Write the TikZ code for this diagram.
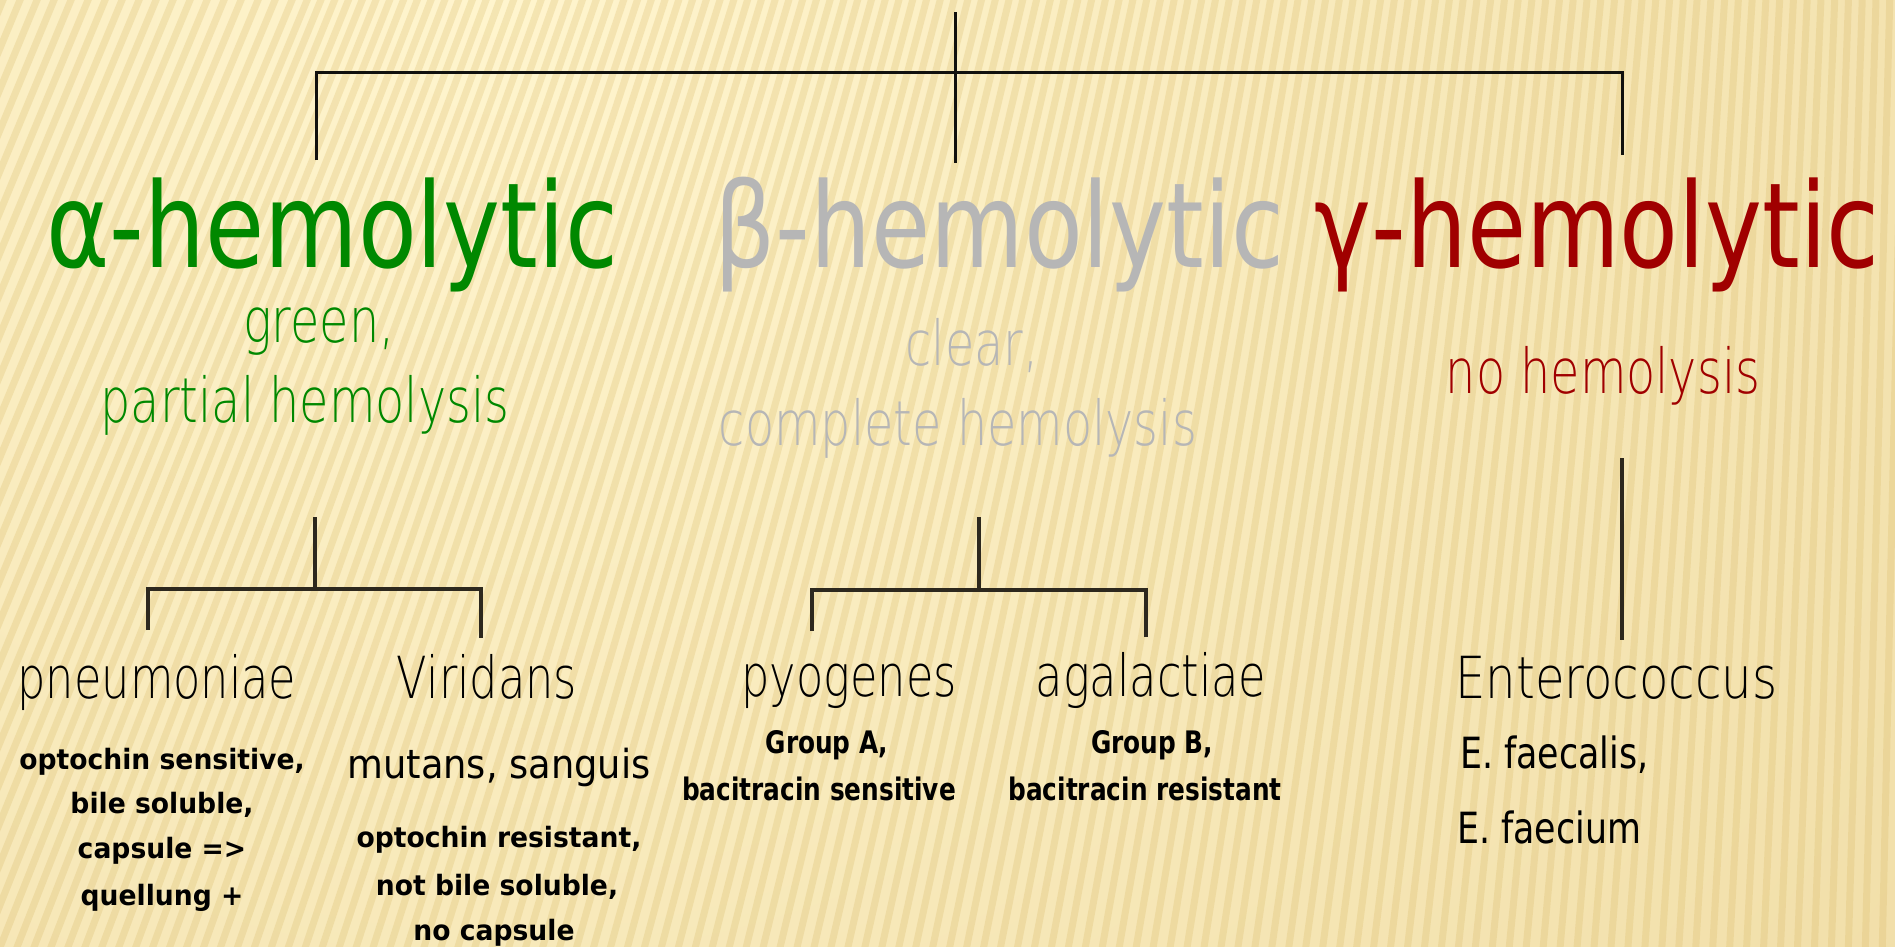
\documentclass[tikz,border=0pt]{standalone}
\usepackage{fontspec}
\newfontfamily\ttlfont[FakeStretch=0.815]{DejaVu Sans}
\newfontfamily\thinfont[FakeStretch=0.77]{DejaVu Sans ExtraLight}
\newfontfamily\thinwfont[FakeStretch=0.83]{DejaVu Sans ExtraLight}
\newfontfamily\medAfont[FakeStretch=0.92]{DejaVu Sans}
\newfontfamily\medBfont[FakeStretch=0.81]{DejaVu Sans}
\newfontfamily\notefont[FakeStretch=0.95]{DejaVu Sans}
\newfontfamily\grpfont[FakeStretch=0.8]{DejaVu Sans}
\definecolor{agreen}{RGB}{0,136,0}
\definecolor{bgray}{RGB}{182,182,182}
\definecolor{gred}{RGB}{160,0,0}
\definecolor{bgA}{RGB}{255,245,206}
\definecolor{bgB}{RGB}{226,198,128}
\definecolor{stripec}{RGB}{216,184,100}
\definecolor{linec}{RGB}{17,17,14}
\definecolor{linec2}{RGB}{45,40,30}
\begin{document}
\begin{tikzpicture}[x=1pt,y=-1pt,
  conn/.style={draw=linec,line width=3pt},
  conn2/.style={draw=linec2,line width=3.6pt},
  stripe/.style={draw=stripec,line width=7pt,opacity=0.26},
  ttl/.style={anchor=base,inner sep=0pt,font=\ttlfont\fontsize{118}{120}\selectfont},
  sub/.style={anchor=base,inner sep=0pt,font=\thinfont\fontsize{62}{64}\selectfont},
  spec/.style={anchor=base,inner sep=0pt,font=\thinfont\fontsize{58}{60}\selectfont},
  specw/.style={anchor=base west,inner sep=0pt,font=\thinwfont\fontsize{58}{60}\selectfont},
  note/.style={anchor=base,inner sep=0pt,font=\notefont\bfseries\fontsize{28}{30}\selectfont},
  grp/.style={anchor=base,inner sep=0pt,font=\grpfont\bfseries\fontsize{31}{33}\selectfont},
  medA/.style={anchor=base,inner sep=0pt,font=\medAfont\fontsize{40}{42}\selectfont},
  medB/.style={anchor=base west,inner sep=0pt,font=\medBfont\fontsize{43}{45}\selectfont}
]
\useasboundingbox (0,0) rectangle (1895,946);
% background
\begin{scope}
\clip (0,0) rectangle (1895,946);
\shade[inner color=bgA,outer color=bgB] (500,0) circle (3600);
\foreach \xb in {-600,-583,...,2000}{
  \pgfmathsetmacro\s{0.42-0.40*min(1,max(0,(\xb+100)/1995))}
  \draw[stripe] (\xb,960) -- ({\xb+\s*960},-10);
}
\end{scope}

% titles
\node[ttl,text=agreen] (alpha) at (332,267) {α-hemolytic};
\node[ttl,text=bgray] (beta) at (999,267) {β-hemolytic};
\node[ttl,text=gred] (gamma) at (1597,267) {γ-hemolytic};

% subtitles
\node[sub,text=agreen] (a1) at (319,342) {green,};
\node[sub,text=agreen] (a2) at (305,422) {partial hemolysis};
\node[sub,text=bgray] (b1) at (972,365) {clear,};
\node[sub,text=bgray] (b2) at (958,445) {complete hemolysis};
\node[sub,text=gred] (g1) at (1603,393) {no hemolysis};

% species
\node[spec] (pneu) at (157,698) {pneumoniae};
\node[spec] (viri) at (487,698) {Viridans};
\node[spec] (pyo) at (849,696) {pyogenes};
\node[spec] (aga) at (1151,696) {agalactiae};
\node[specw] (ent) at (1455,698) {Enterococcus};

% notes
\node[note] (pn1) at (162,769) {optochin sensitive,};
\node[note] (pn2) at (162,813) {bile soluble,};
\node[note] (pn3) at (162,858) {capsule =>};
\node[note] (pn4) at (162,905) {quellung +};

\node[medA] (vi0) at (499,778) {mutans, sanguis};
\node[note] (vi1) at (499,847) {optochin resistant,};
\node[note] (vi2) at (497,895) {not bile soluble,};
\node[note] (vi3) at (494,940) {no capsule};

\node[grp] (py1) at (827,753) {Group A,};
\node[grp] (py2) at (819,800) {bacitracin sensitive};
\node[grp] (ag1) at (1152,753) {Group B,};
\node[grp] (ag2) at (1145,800) {bacitracin resistant};

\node[medB] (en1) at (1460,768) {E. faecalis,};
\node[medB] (en2) at (1457,843) {E. faecium};

% top connectors
\coordinate (root) at (955,12);
\coordinate (bTop) at (955,163);
\coordinate (aBar) at (316,72);
\coordinate (gBar) at (1622,72);
\coordinate (aTop) at (316,160);
\coordinate (gTop) at (1622,155);
\draw[conn] (root) -- (bTop);
\draw[conn] (aTop) -- (aBar) -- (gBar) -- (gTop);

% alpha branch
\coordinate (aS) at (315,517);
\coordinate (aJ) at (315,589);
\coordinate (aL) at (148,589);
\coordinate (aR) at (481,589);
\coordinate (aLe) at (148,630);
\coordinate (aRe) at (481,638);
\draw[conn2] (aS) -- (aJ);
\draw[conn2] (aLe) -- (aL) -- (aR) -- (aRe);

% beta branch
\coordinate (bS) at (979,517);
\coordinate (bJ) at (979,590);
\coordinate (bL) at (812,590);
\coordinate (bR) at (1146,590);
\coordinate (bLe) at (812,631);
\coordinate (bRe) at (1146,637);
\draw[conn2] (bS) -- (bJ);
\draw[conn2] (bLe) -- (bL) -- (bR) -- (bRe);

% gamma branch
\coordinate (gS) at (1622,458);
\coordinate (gE) at (1622,640);
\draw[conn2] (gS) -- (gE);
\end{tikzpicture}
\end{document}
